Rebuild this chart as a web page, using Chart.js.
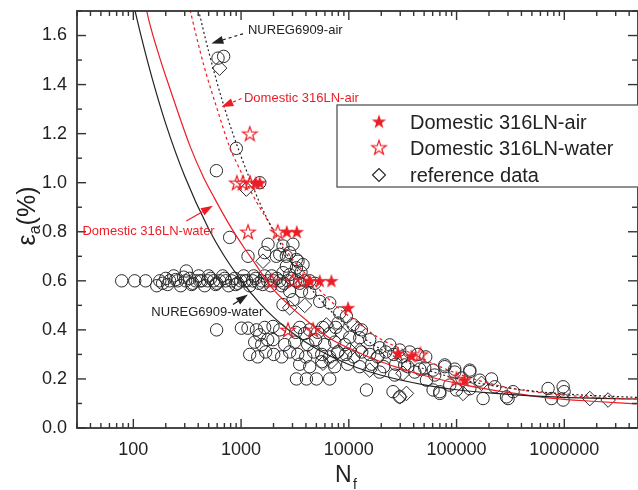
<!DOCTYPE html>
<html><head><meta charset="utf-8">
<script src="https://cdn.jsdelivr.net/npm/chart.js@4.4.0/dist/chart.umd.min.js"></script>
<style>html,body{margin:0;padding:0;background:#fff}canvas{display:block}</style>
</head><body>
<canvas id="c" width="638" height="490"></canvas>
<script>
// ---- data (N_f, strain amplitude %) ----
const xTickValues = [100, 1000, 10000, 100000, 1000000];
const yTickValues = [0, 0.2, 0.4, 0.6, 0.8, 1.0, 1.2, 1.4, 1.6];

const nuregWater = [[95,1.775],[100,1.731],[120,1.585],[150,1.423],[200,1.240],[300,1.026],[500,0.812],[700,0.700],[1000,0.602],[1500,0.507],[2000,0.452],[3000,0.387],[5000,0.323],[10000,0.259],[20000,0.215],[50000,0.176],[100000,0.156],[200000,0.143],[500000,0.131],[1000000,0.125],[5000000,0.118]];
const nuregAir = [[370,1.776],[405,1.70],[500,1.535],[700,1.306],[1000,1.107],[1500,0.915],[2000,0.803],[3000,0.672],[5000,0.541],[7000,0.472],[10000,0.411],[20000,0.320],[50000,0.241],[100000,0.202],[200000,0.175],[500000,0.151],[1000000,0.139],[5000000,0.124]];
const domWaterCurve = [[120,1.82],[132,1.708],[170,1.53],[220,1.38],[338,1.146],[450,1.02],[569,0.935],[800,0.82],[1041,0.742],[1400,0.66],[1777,0.592],[2500,0.52],[4335,0.428],[7000,0.36],[10940,0.318],[18000,0.277],[27670,0.248],[50000,0.214],[123600,0.174],[300000,0.145],[733000,0.122],[2000000,0.108],[4680000,0.098]];
const domAirCurve = [[300,1.80],[338,1.70],[450,1.48],[600,1.30],[783,1.146],[1000,1.044],[1387,0.923],[2280,0.769],[3034,0.685],[3760,0.64],[5000,0.577],[7680,0.496],[12000,0.431],[19370,0.365],[39170,0.302],[70000,0.250],[123600,0.209],[250000,0.172],[510000,0.148],[1500000,0.128],[4680000,0.118]];

const domAirPts = [[1368,1.0],[1490,1.0],[2655,0.8],[3290,0.8],[4335,0.6],[5370,0.6],[6890,0.6],[9840,0.49],[28600,0.305],[38100,0.294],[119000,0.195]];
const domWaterPts = [[914,1.0],[1035,1.0],[1210,1.0],[1205,1.2],[1160,0.8],[2187,0.8],[1923,0.6],[3014,0.6],[3755,0.6],[2723,0.4],[4660,0.4],[46200,0.3],[99800,0.2]];
const referencePts = [[632,1.467],[1120,0.974],[1597,0.68],[2826,0.49],[3895,0.50],[6194,0.42],[6893,0.27],[8533,0.387],[12170,0.406],[10190,0.318],[12620,0.318],[15630,0.236],[18670,0.292],[7938,0.311],[5761,0.264],[31850,0.223],[34250,0.141],[29690,0.127],[114900,0.141],[170300,0.182],[1725000,0.12],[2550000,0.114]];
const otherPts = [
[78,0.60],[103,0.60],[130,0.60],
[611,1.508],[689,1.515],[903,1.14],[590,1.049],[1490,1.0],[783,0.777],[1160,0.70],
[165,0.58],[176,0.60],[187,0.59],[200,0.61],[208,0.585],[217,0.60],[237,0.62],[247,0.605],[258,0.60],[275,0.58],[293,0.615],[310,0.64],[306,0.60],[333,0.61],[348,0.585],[355,0.59],[379,0.60],[404,0.62],[413,0.60],[431,0.60],[459,0.58],[490,0.60],[500,0.62],[522,0.61],[557,0.60],[581,0.585],[593,0.59],[633,0.60],[675,0.62],[704,0.61],[719,0.60],[767,0.58],[818,0.60],[872,0.61],[891,0.585],[930,0.59],[992,0.60],[1057,0.62],[1080,0.60],[1127,0.60],[1202,0.58],[1281,0.60],[1309,0.62],[1366,0.61],[1457,0.59],[1553,0.60],[1587,0.585],[1656,0.62],[1766,0.60],[1883,0.58],[1923,0.62],[2008,0.60],[2141,0.61],[2283,0.60],[2382,0.58],[2487,0.59],[2709,0.60],[2826,0.625],[2951,0.61],[3214,0.60],[3501,0.59],[3895,0.60],[4335,0.60],[4826,0.59],
[1656,0.715],[1780,0.749],[2127,0.70],[2283,0.708],[2450,0.742],[2634,0.66],[2630,0.70],[2826,0.715],[3030,0.749],[3263,0.687],[3263,0.653],[3375,0.68],[3755,0.666],[2450,0.633],[3600,0.635],
[2826,0.557],[3631,0.557],[4335,0.551],[3034,0.523],[2449,0.503],[5369,0.516],[6647,0.51],[8232,0.469],[9500,0.455],[10940,0.421],[13090,0.40],[7938,0.428],
[593,0.40],[1007,0.407],[1159,0.407],[1387,0.40],[1489,0.38],[1656,0.41],[1978,0.414],[2283,0.40],[3214,0.39],[3501,0.41],[3895,0.385],[4335,0.40],[5143,0.39],[5725,0.41],[6647,0.385],[7557,0.41],
[1338,0.35],[1553,0.34],[1766,0.36],[1978,0.36],[2540,0.34],[3146,0.35],[4154,0.34],[4929,0.36],[5973,0.34],[7397,0.35],[9161,0.34],[10190,0.37],[15630,0.36],[19360,0.327],[23970,0.339],[29690,0.318],[12620,0.368],
[1202,0.30],[1426,0.29],[1692,0.31],[2008,0.30],[2382,0.29],[2826,0.31],[3354,0.30],[3981,0.29],[4722,0.31],[5603,0.30],[6647,0.29],[7887,0.31],[9359,0.30],[11110,0.29],[13180,0.31],[15630,0.30],[18550,0.29],[22010,0.31],[26110,0.30],[30990,0.29],[36770,0.31],[43630,0.30],[51760,0.29],
[3501,0.26],[4335,0.25],[5603,0.27],[7397,0.25],[9768,0.26],[12620,0.25],[16320,0.26],[21090,0.25],[27260,0.26],[35240,0.25],[45540,0.24],[60510,0.236],[77730,0.25],[96260,0.24],[132700,0.23],
[19360,0.228],[26680,0.216],[33040,0.257],[40920,0.228],[50680,0.245],[62760,0.216],[77730,0.257],[96260,0.228],[111800,0.204],[132700,0.236],
[3263,0.20],[4040,0.20],[5002,0.20],[6647,0.20],[14570,0.155],[52540,0.195],[69850,0.148],[86500,0.175],[132700,0.16],[164300,0.195],[210900,0.20],[226300,0.168],[176200,0.12],[334600,0.148],[300700,0.12],[707400,0.161],[974800,0.168],[995600,0.148],[760300,0.12],[974800,0.114],
[25720,0.148],[29690,0.127],[60510,0.155],[69850,0.141],[99770,0.155],[290600,0.127]
];

// annotation anchors in data coordinates: text position, arrow start, arrow tip
const notes = [
  {text:'NUREG6909-air', color:'#222', align:'left', at:[1159,1.622], from:[1042,1.607], to:[530,1.568], dashed:true},
  {text:'Domestic 316LN-air', color:'#ee1c25', align:'left', at:[1064,1.345], from:[1007,1.343], to:[656,1.309], dashed:true},
  {text:'Domestic 316LN-water', color:'#ee1c25', align:'right', at:[569,0.803], from:[310,0.844], to:[548,0.906], dashed:false},
  {text:'NUREG6909-water', color:'#222', align:'left', at:[147,0.473], from:[841,0.503], to:[1159,0.544], dashed:false}
];

const RED = '#ee1c25', INK = '#2a2a2a';
const FONT = '"Liberation Sans", Arial, Helvetica, sans-serif';
const toXY = a => a.map(p => ({x:p[0], y:p[1]}));

function starPath(ctx, cx, cy, R, r){
  ctx.beginPath();
  for (let i=0;i<10;i++){
    const ang = -Math.PI/2 + i*Math.PI/5;
    const rad = i%2===0 ? R : r;
    const px = cx + rad*Math.cos(ang), py = cy + rad*Math.sin(ang);
    i===0 ? ctx.moveTo(px,py) : ctx.lineTo(px,py);
  }
  ctx.closePath();
}
function makeStar(filled){
  const c = document.createElement('canvas'); c.width = 18; c.height = 18;
  const g = c.getContext('2d');
  starPath(g, 9, 9.6, 7.6, 3.0);
  if (filled){ g.fillStyle = RED; g.fill(); }
  else { g.strokeStyle = RED; g.lineWidth = 1.2; g.stroke(); }
  return c;
}
const starFilled = makeStar(true), starOpen = makeStar(false);

function lineDs(data, color, dash){
  return {type:'line', data:toXY(data), borderColor:color, borderWidth:1.2, borderDash:dash, pointRadius:0,
    cubicInterpolationMode:'monotone', fill:false, clip:0, order:1};
}
function noPad(s){ s.paddingLeft = 0; s.paddingRight = 0; s.paddingTop = 0; s.paddingBottom = 0; }

const framePlugin = {
  id:'frame',
  afterDatasetsDraw(chart){
    const {ctx, chartArea:a, scales:{x, y}} = chart;
    ctx.save();
    ctx.strokeStyle = '#333'; ctx.lineWidth = 1.8;
    ctx.strokeRect(a.left, a.top, a.right - a.left, a.bottom - a.top);
    ctx.lineWidth = 1.4;
    const seg = (x1,y1,x2,y2)=>{ctx.beginPath();ctx.moveTo(x1,y1);ctx.lineTo(x2,y2);ctx.stroke();};
    for (let e=1; e<=7; e++) for (let m=1; m<=9; m++){
      const v = m*Math.pow(10,e);
      if (v < x.min || v > x.max) continue;
      const px = x.getPixelForValue(v), len = m===1 ? 9 : 5;
      seg(px, a.bottom, px, a.bottom-len); seg(px, a.top, px, a.top+len);
    }
    for (let i=0; i<=17; i++){
      const py = y.getPixelForValue(i/10), len = i%2===0 ? 9 : 5;
      seg(a.left, py, a.left+len, py); seg(a.right-1, py, a.right-1-len, py);
    }
    // axis titles
    ctx.fillStyle = '#222'; ctx.textBaseline = 'alphabetic'; ctx.textAlign = 'left';
    ctx.font = '23px ' + FONT;
    ctx.fillText('N', 335, 482);
    ctx.font = '14px ' + FONT;
    ctx.fillText('f', 353, 489);
    ctx.save();
    ctx.translate(35, 216);
    ctx.rotate(-Math.PI/2);
    ctx.font = '25px ' + FONT;
    const w1 = ctx.measureText('ε').width;
    ctx.font = '16px ' + FONT; const w2 = ctx.measureText('a').width;
    ctx.font = '25px ' + FONT; const w3 = ctx.measureText('(%)').width;
    let sx = -(w1+w2+w3)/2;
    ctx.fillText('ε', sx, 0); sx += w1;
    ctx.font = '16px ' + FONT; ctx.fillText('a', sx, 5); sx += w2;
    ctx.font = '25px ' + FONT; ctx.fillText('(%)', sx, 0);
    ctx.restore();

    // annotations
    ctx.font = '13px ' + FONT; ctx.textBaseline = 'middle';
    for (const n of notes){
      ctx.fillStyle = n.color; ctx.strokeStyle = n.color;
      ctx.textAlign = n.align;
      ctx.fillText(n.text, x.getPixelForValue(n.at[0]), y.getPixelForValue(n.at[1]));
      const x1 = x.getPixelForValue(n.from[0]), y1 = y.getPixelForValue(n.from[1]);
      const x2 = x.getPixelForValue(n.to[0]), y2 = y.getPixelForValue(n.to[1]);
      const ang = Math.atan2(y2-y1, x2-x1), L = 12, W = 4;
      const bx = x2 - L*Math.cos(ang), by = y2 - L*Math.sin(ang);
      ctx.lineWidth = 1.2; ctx.setLineDash(n.dashed ? [3,3] : []);
      seg(x1, y1, bx, by); ctx.setLineDash([]);
      ctx.beginPath(); ctx.moveTo(x2, y2);
      ctx.lineTo(bx + W*Math.sin(ang), by - W*Math.cos(ang));
      ctx.lineTo(bx - W*Math.sin(ang), by + W*Math.cos(ang));
      ctx.closePath(); ctx.fill();
    }

    // legend
    ctx.fillStyle = '#fff'; ctx.fillRect(337, 105, 320, 82);
    ctx.strokeStyle = '#555'; ctx.lineWidth = 1.3; ctx.strokeRect(337, 105, 320, 82);
    const rows = [['Domestic 316LN-air', starFilled, 122], ['Domestic 316LN-water', starOpen, 148], ['reference data', null, 175]];
    ctx.font = '20px ' + FONT; ctx.textAlign = 'left'; ctx.textBaseline = 'middle'; ctx.fillStyle = '#222';
    for (const [t, img, yy] of rows){
      if (img) ctx.drawImage(img, 379-9, yy-9.6);
      else { ctx.strokeStyle = '#222'; ctx.lineWidth = 1.1; ctx.beginPath();
        ctx.moveTo(379-6.5, yy); ctx.lineTo(379, yy-6.5); ctx.lineTo(379+6.5, yy); ctx.lineTo(379, yy+6.5); ctx.closePath(); ctx.stroke(); }
      ctx.fillStyle = '#222'; ctx.fillText(t, 410, yy + 1);
    }
    ctx.restore();
  }
};

new Chart(document.getElementById('c'), {
  type: 'scatter',
  data: { datasets: [
    {label:'Domestic 316LN-air', data:toXY(domAirPts), pointStyle:starFilled, order:0},
    {label:'Domestic 316LN-water', data:toXY(domWaterPts), pointStyle:starOpen, order:0},
    lineDs(nuregAir, '#222', [2,2.5]),
    lineDs(domAirCurve, RED, [3,3]),
    lineDs(nuregWater, '#222', []),
    lineDs(domWaterCurve, RED, []),
    {label:'reference data', data:toXY(referencePts), pointStyle:'rectRot', pointRadius:7.3, borderColor:INK, borderWidth:1, backgroundColor:'rgba(0,0,0,0)', order:2},
    {label:'other', data:toXY(otherPts), pointStyle:'circle', pointRadius:6.2, borderColor:INK, borderWidth:1, backgroundColor:'rgba(0,0,0,0)', order:3}
  ]},
  options: {
    responsive:false, animation:false, events:[],
    layout:{autoPadding:false, padding:{top:11, right:0, left:0, bottom:0}},
    plugins:{legend:{display:false}, tooltip:{enabled:false}},
    scales:{
      x:{type:'logarithmic', min:30, max:4830000,
        grid:{display:false, drawTicks:false}, border:{display:false},
        afterBuildTicks: s => { s.ticks = xTickValues.map(v => ({value:v})); },
        afterFit: s => { s.height = 62; noPad(s); },
        ticks:{color:'#222', font:{size:18, family:FONT}, padding:11, maxRotation:0, autoSkip:false,
          callback: v => String(v)}},
      y:{type:'linear', min:0, max:1.7,
        grid:{display:false, drawTicks:false}, border:{display:false},
        afterBuildTicks: s => { s.ticks = yTickValues.map(v => ({value:v})); },
        afterFit: s => { s.width = 77; noPad(s); },
        ticks:{color:'#222', font:{size:18, family:FONT}, padding:10,
          callback: v => Number(v).toFixed(1)}}
    }
  },
  plugins:[framePlugin]
});
</script>
</body></html>
